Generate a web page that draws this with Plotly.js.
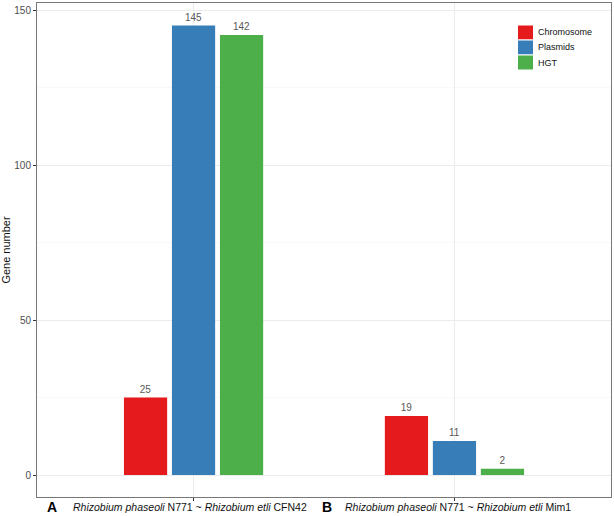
<!DOCTYPE html>
<html>
<head>
<meta charset="utf-8">
<script src="https://cdn.plot.ly/plotly-3.0.1.min.js"></script>
<style>html,body{margin:0;padding:0;background:#fff;}</style>
</head>
<body>
<div id="chart" style="width:614px;height:516px;"></div>
<script>
const categories = ["A", "B"];
const panelLetters = ["A", "B"];
const panelTexts = [
  "<i>Rhizobium phaseoli</i> N771 ~ <i>Rhizobium etli</i> CFN42",
  "<i>Rhizobium phaseoli</i> N771 ~ <i>Rhizobium etli</i> Mim1"
];
const seriesNames = ["Chromosome", "Plasmids", "HGT"];
const chromosome = [25, 19];
const plasmids = [145, 11];
const hgt = [142, 2];
const colors = ["#E41A1C", "#377EB8", "#4DAF4A"];
const yTicks = [0, 50, 100, 150];

const FONT = "Liberation Sans, Arial, sans-serif";
const seriesValues = [chromosome, plasmids, hgt];
const traces = seriesNames.map((name, i) => ({
  type: "bar",
  name: name,
  x: categories,
  y: seriesValues[i],
  text: seriesValues[i].map(String),
  textposition: "outside",
  cliponaxis: false,
  textfont: {family: FONT, size: 10, color: "#595959"},
  marker: {color: colors[i], line: {width: 0}},
  showlegend: false,
  hoverinfo: "skip"
}));

// plot area in pixels: x 37..611, y 3..497
const PX0 = 37, PW = 574, PY1 = 497, PH = 494;
const px = v => (v - PX0) / PW;
const py = v => (PY1 - v) / PH;

const annotations = [];
const shapes = [];
const letterX = [52, 327];
const textX = [71, 343];
panelLetters.forEach((L, i) => {
  annotations.push({
    xref: "paper", yref: "paper",
    x: px(letterX[i]), y: 0, yshift: -10,
    xanchor: "center", yanchor: "middle",
    text: "<b>" + L + "</b>", showarrow: false,
    font: {family: FONT, size: 14, color: "#000"}
  });
  annotations.push({
    xref: "paper", yref: "paper",
    x: px(textX[i]), y: 0, yshift: -10,
    xanchor: "left", yanchor: "middle",
    text: panelTexts[i], showarrow: false,
    font: {family: FONT, size: 10.5, color: "#111"}
  });
});

// legend keys
seriesNames.forEach((name, i) => {
  const top = 25 + 15 * i;
  shapes.push({
    type: "rect", xref: "paper", yref: "paper",
    x0: px(517.5), x1: px(533.5), y0: py(top + 15), y1: py(top),
    fillcolor: colors[i], line: {width: 1, color: "#fff"}
  });
  annotations.push({
    xref: "paper", yref: "paper",
    x: px(536), y: py(top + 7.5),
    xanchor: "left", yanchor: "middle",
    text: name, showarrow: false,
    font: {family: FONT, size: 9, color: "#111"}
  });
});

const layout = {
  width: 614, height: 516,
  margin: {l: 37, r: 3, t: 3, b: 19, pad: 0},
  paper_bgcolor: "#fff",
  plot_bgcolor: "#fff",
  barmode: "group",
  bargap: 0.448,
  bargroupgap: 0.1,
  showlegend: false,
  xaxis: {
    type: "category",
    range: [-0.6, 1.6],
    showticklabels: false,
    ticks: "outside", ticklen: 3, tickcolor: "#333",
    showgrid: true, gridcolor: "#ebebeb", gridwidth: 1,
    showline: true, linecolor: "#777", linewidth: 1, mirror: true,
    zeroline: false, fixedrange: true
  },
  yaxis: {
    range: [-7.1, 152.3],
    tickvals: yTicks,
    ticktext: yTicks.map(String),
    ticks: "outside", ticklen: 3, tickcolor: "#333",
    tickfont: {family: FONT, size: 10, color: "#4d4d4d"},
    showgrid: true, gridcolor: "#ebebeb", gridwidth: 1,
    minor: {tickvals: [25, 75, 125], showgrid: true, gridcolor: "#f4f4f4", gridwidth: 0.6, ticks: ""},
    showline: true, linecolor: "#777", linewidth: 1, mirror: true,
    zeroline: false,
    title: {text: "Gene number", standoff: 6,
      font: {family: FONT, size: 11, color: "#111"}},
    fixedrange: true
  },
  shapes: shapes,
  annotations: annotations
};

Plotly.newPlot("chart", traces, layout, {staticPlot: true, displayModeBar: false});
</script>
</body>
</html>
